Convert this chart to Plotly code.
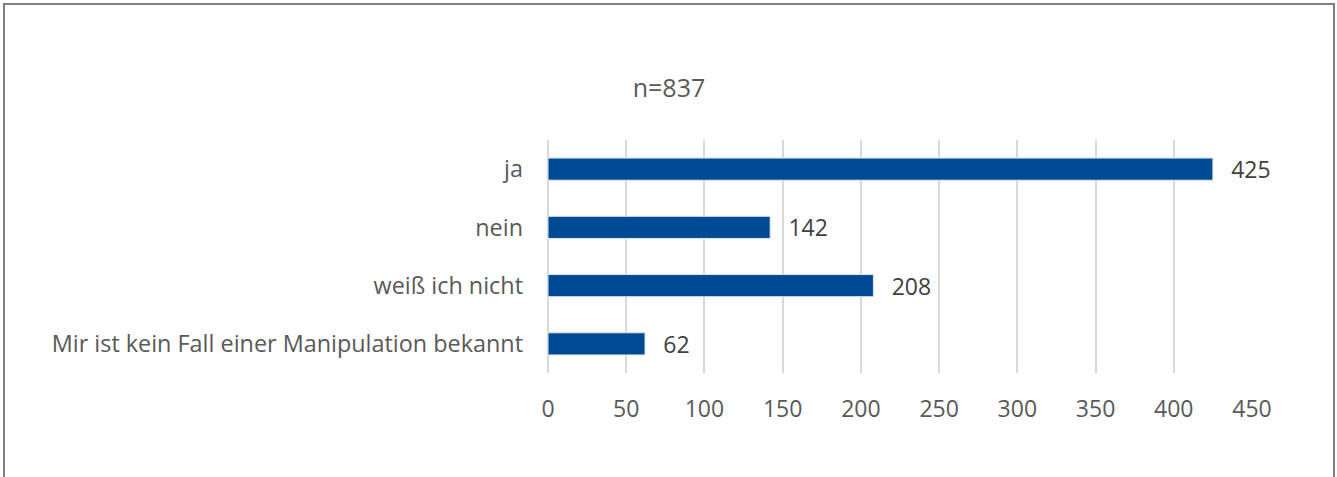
import plotly.graph_objects as go

categories = ["ja", "nein", "weiß ich nicht", "Mir ist kein Fall einer Manipulation bekannt"]
values = [425, 142, 208, 62]
x_ticks = [0, 50, 100, 150, 200, 250, 300, 350, 400, 450]
title_text = "n=837"

W, H = 1337, 477
ml, mr, mt, mb = 548, 85, 140, 104
pw, ph = W - ml - mr, H - mt - mb
FONT = "Open Sans"

def px_x(p):
    return (p - ml) / pw

def px_y(p):
    return (H - mb - p) / ph

fig = go.Figure(go.Bar(
    y=categories, x=values, orientation="h",
    marker=dict(color="#004A93", line=dict(color="#DCE6F2", width=1)),
    text=["\u2002\u2009" + str(v) for v in values], textposition="outside",
    textfont=dict(family=FONT, size=23, color="#404040"),
    constraintext="none",
    cliponaxis=False,
))

fig.update_layout(
    width=W, height=H,
    margin=dict(l=ml, r=mr, t=mt, b=mb),
    paper_bgcolor="white", plot_bgcolor="white",
    font=dict(family=FONT, size=23, color="#595959"),
    bargap=0.62,
    showlegend=False,
    title=dict(text=title_text, x=px_x(669), xref="paper", xanchor="center",
               y=1 - 88 / H, yanchor="middle", yref="container",
               font=dict(family=FONT, size=25, color="#595959")),
    xaxis=dict(range=[0, 450], tickvals=x_ticks, showgrid=True, gridcolor="#D9D9D9",
               gridwidth=2, zeroline=True, zerolinecolor="#D9D9D9", zerolinewidth=2,
               showline=False, ticks="", ticklabelstandoff=20,
               tickfont=dict(family=FONT, size=23, color="#595959")),
    yaxis=dict(autorange="reversed", showgrid=False, zeroline=False, showline=False,
               ticks="", ticklabelstandoff=24,
               tickfont=dict(family=FONT, size=23.4, color="#595959")),
    shapes=[dict(type="rect", xref="paper", yref="paper",
                 x0=px_x(4), x1=px_x(1334), y0=px_y(490), y1=px_y(4),
                 line=dict(color="#808080", width=2), fillcolor="rgba(0,0,0,0)", layer="below")],
)

fig.write_html("out.html", config={"displayModeBar": False},
               post_script="document.body.style.margin='0';")
